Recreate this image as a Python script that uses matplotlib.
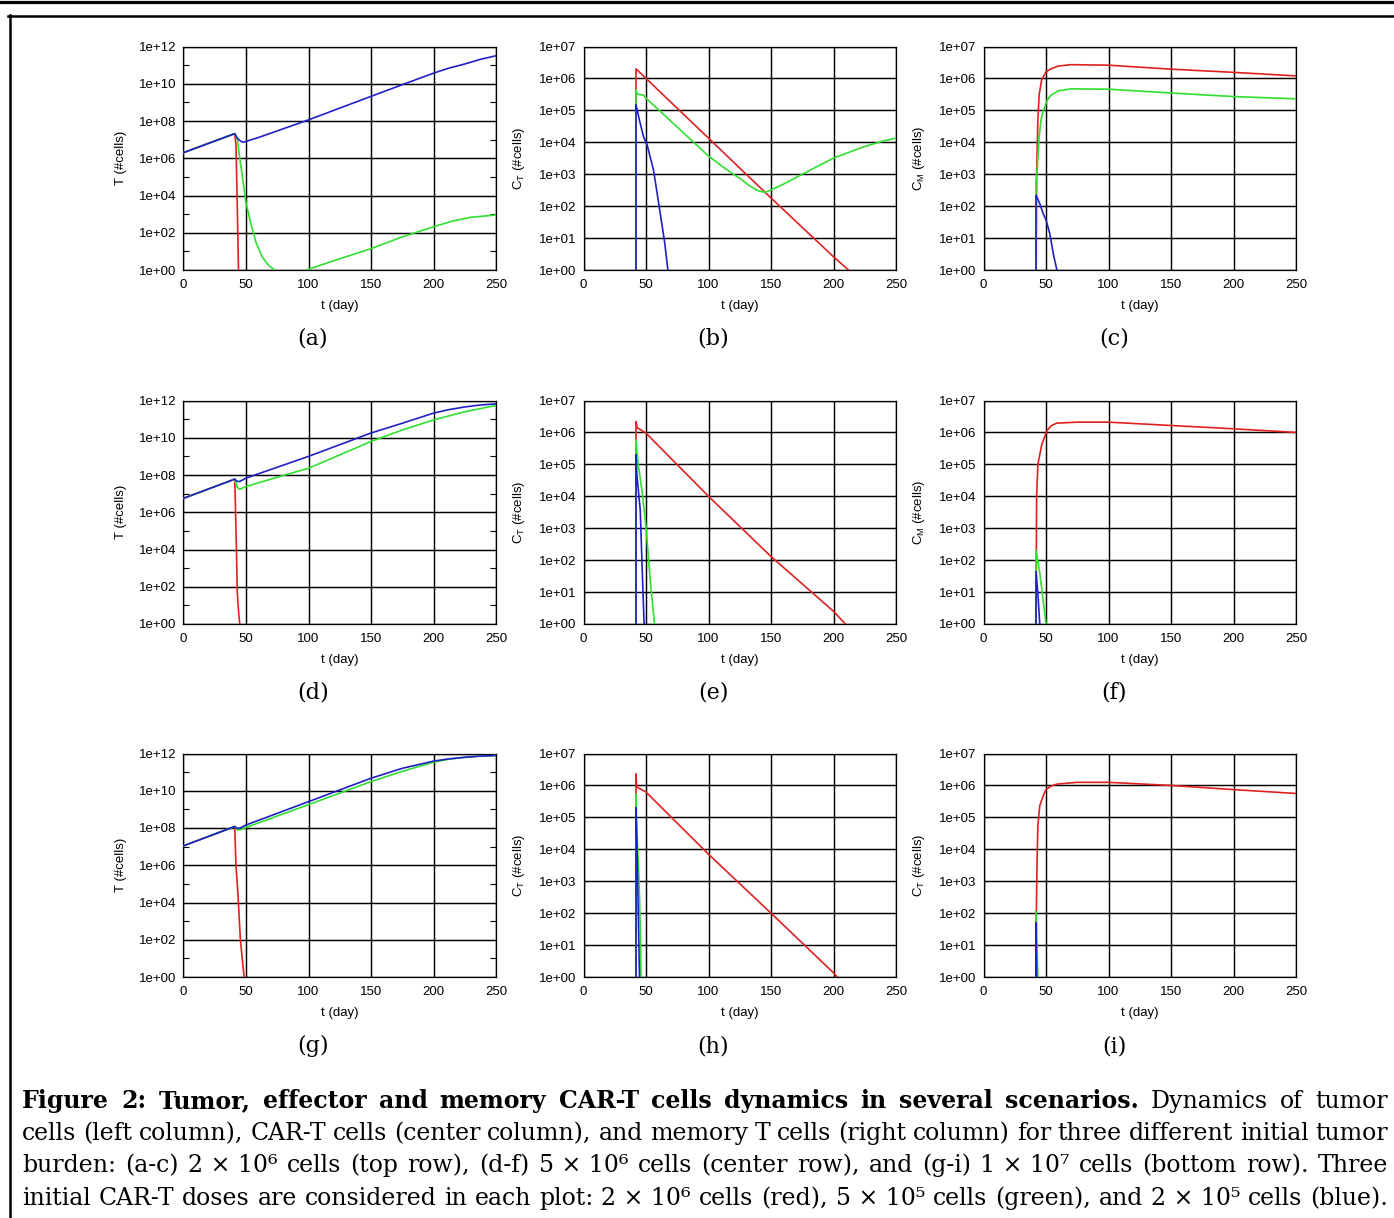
import matplotlib
matplotlib.use('Agg')
import matplotlib.pyplot as plt
from matplotlib.lines import Line2D
from matplotlib.ticker import FixedLocator, NullFormatter

# (day, cells); dose given at day 42
a_red = [(0, 2e6), (41, 2.1e7), (42, 5e6), (43, 3e3), (44, 1), (44.5, 1e-2)]
a_green = [(0, 2e6), (41, 2.1e7), (43, 1.1e7), (45, 1e6), (47, 1.2e5), (50, 4e3), (54, 3e2),
           (58, 3e1), (63, 5), (68, 1.8), (73, 1), (85, 0.05), (98, 1), (125, 4), (150, 14),
           (175, 60), (200, 2.1e2), (215, 4.2e2), (230, 6.8e2), (250, 9e2)]
a_blue = [(0, 2e6), (41, 2.1e7), (43, 1.2e7), (46, 8e6), (48, 7.3e6), (60, 1.3e7), (100, 1.15e8),
          (150, 2.1e9), (175, 8.9e9), (200, 3.7e10), (212, 6.8e10), (225, 1.15e11),
          (237, 2e11), (250, 3.2e11)]

b_red = [(42, 1e-2), (42, 2e6), (50, 1e6), (100, 1.35e4), (150, 1.8e2), (200, 2.6), (212, 1), (213, 0.9)]
b_green = [(42, 1e-2), (42, 4.4e5), (43, 3.2e5), (48, 3e5), (50, 2.4e5), (75, 3e4), (100, 3.7e3),
           (115, 1.35e3), (125, 7.4e2), (133, 4.3e2), (140, 3e2), (145, 2.7e2), (150, 3.2e2),
           (160, 4.9e2), (175, 1e3), (200, 3.2e3), (225, 7.4e3), (240, 1.1e4), (250, 1.35e4)]
b_blue = [(42, 1e-2), (42, 1.5e5), (43, 1e5), (45, 4.5e4), (48, 1.5e4), (51, 8e3), (56, 1.35e3),
          (61, 7.5e1), (65, 7), (67.5, 1), (68, 0.5)]

c_red = [(42, 1e-2), (42.5, 1e3), (43.5, 5e4), (44.5, 3e5), (46.5, 9e5), (50, 1.6e6), (54, 2e6),
         (60, 2.45e6), (70, 2.7e6), (100, 2.6e6), (150, 1.95e6), (200, 1.55e6), (250, 1.2e6)]
c_green = [(42, 1e-2), (42, 6e2), (43, 1.5e3), (44.5, 1.5e4), (46, 5e4), (48, 1e5), (51, 2.1e5),
           (54, 3e5), (60, 4.1e5), (70, 4.7e5), (100, 4.6e5), (150, 3.5e5), (200, 2.7e5), (250, 2.3e5)]
c_blue = [(42, 1e-2), (42, 2.2e2), (45, 1.2e2), (48, 5.5e1), (50, 3.7e1), (53, 1.4e1), (56, 3),
          (58.7, 1), (59, 0.5)]

d_red = [(0, 5.6e6), (41, 6e7), (41.5, 3e6), (42.3, 1.5e4), (43, 6e1), (44, 5), (45, 1), (45.5, 1e-2)]
d_green = [(0, 5.6e6), (41, 6e7), (43, 2.2e7), (45, 1.7e7), (50, 2.4e7), (75, 7.6e7), (100, 2.3e8),
           (125, 1.2e9), (150, 6.3e9), (175, 2.6e10), (200, 9e10), (225, 2.5e11), (250, 5.4e11)]
d_blue = [(0, 5.6e6), (41, 6e7), (43, 4.5e7), (45, 4.5e7), (50, 6.8e7), (100, 1e9), (150, 1.8e10),
          (175, 6e10), (200, 2.1e11), (212, 3.2e11), (225, 4.5e11), (237, 5.7e11), (250, 6.6e11)]

e_red = [(42, 1e-2), (42, 2.2e6), (43, 1.4e6), (50, 9.5e5), (100, 1e4), (150, 1.3e2), (200, 2.5),
         (209.5, 1), (210, 0.9)]
e_green = [(42, 1e-2), (42, 5.8e5), (43, 2e5), (44, 8.5e4), (46.7, 1.6e4), (50, 1.1e3),
           (53.4, 2.4e1), (56.8, 1), (57, 0.5)]
e_blue = [(42, 1e-2), (42, 2e5), (42.7, 4.7e4), (45.4, 3.7e3), (47.5, 1.2e1), (48.5, 1), (48.7, 0.5)]

f_red = [(42, 1e-2), (42.3, 2.7e2), (42.5, 1e4), (43.5, 1e5), (46.5, 4e5), (50.5, 1.1e6),
         (54, 1.6e6), (58.5, 1.95e6), (75, 2.1e6), (100, 2.1e6), (150, 1.65e6), (200, 1.3e6),
         (250, 1e6)]
f_green = [(42, 1e-2), (42, 2e2), (45, 4e1), (48, 4.5), (50, 1), (50.5, 0.5)]
f_blue = [(42, 1e-2), (42, 4.4e1), (43.5, 9), (45, 1), (45.3, 0.5)]

g_red = [(0, 1.1e7), (41, 1.2e8), (41.5, 1e7), (42, 9e5), (43.5, 3.4e4), (45.5, 1e2), (48.5, 1),
         (49, 1e-2)]
g_green = [(0, 1.1e7), (41, 1.2e8), (43, 8e7), (45, 7.9e7), (50, 1.07e8), (100, 1.8e9), (150, 3.1e10),
           (175, 1.1e11), (200, 3.4e11), (212, 4.9e11), (225, 6.2e11), (237, 7.2e11), (250, 7.8e11)]
g_blue = [(0, 1.1e7), (41, 1.2e8), (43, 9.5e7), (45, 9.8e7), (50, 1.45e8), (100, 2.6e9), (150, 4.7e10),
          (175, 1.6e11), (200, 3.9e11), (212, 5.1e11), (225, 6.3e11), (237, 7.2e11), (250, 7.8e11)]

h_red = [(42, 1e-2), (42, 2.3e6), (42.5, 9e5), (50, 6.2e5), (100, 7e3), (150, 1e2), (200, 1.35),
         (203, 1), (203.5, 0.9)]
h_green = [(42, 1e-2), (42, 5.4e5), (42.7, 3.4e4), (44, 3e3), (45, 1.7e2), (45.6, 1.5e1), (46, 1),
           (46.2, 0.5)]
h_blue = [(42, 1e-2), (42, 2e5), (42.7, 2.1e4), (43.5, 4.4e2), (44.1, 2.4e1), (44.8, 1), (45, 0.5)]

i_red = [(42, 1e-2), (42.3, 1e2), (42.7, 1.9e3), (43.5, 5.5e4), (45, 2.3e5), (47.8, 4.8e5),
         (50, 7.4e5), (54, 9.5e5), (58.7, 1.1e6), (75, 1.25e6), (100, 1.25e6), (150, 1e6),
         (200, 7.4e5), (250, 5.6e5)]
i_green = [(42, 1e-2), (42, 1.15e2), (43.5, 1), (43.7, 0.5)]
i_blue = [(42, 1e-2), (42, 5e1), (42.6, 1), (42.8, 0.5)]

letters = ['a', 'b', 'c', 'd', 'e', 'f', 'g', 'h', 'i']
ylabels = ['T (#cells)', r'C$_\mathregular{T}$ (#cells)', r'C$_\mathregular{M}$ (#cells)'] * 2 + \
          ['T (#cells)', r'C$_\mathregular{T}$ (#cells)', r'C$_\mathregular{T}$ (#cells)']
x_ticks = [0, 50, 100, 150, 200, 250]

caption = [
    [('Figure 2:  Tumor, effector and memory CAR-T cells dynamics in several scenarios.', 'bold'),
     ('Dynamics of tumor', 'normal')],
    [('cells (left column), CAR-T cells (center column), and memory T cells (right column) '
      'for three different initial tumor', 'normal')],
    [('burden: (a-c) 2~×~10⁶ cells (top row), (d-f) 5~×~10⁶ cells (center row), '
      'and (g-i) 1~×~10⁷ cells (bottom row).  Three', 'normal')],
    [('initial CAR-T doses are considered in each plot: 2~×~10⁶ cells (red), '
      '5~×~10⁵ cells (green), and 2~×~10⁵ cells (blue).', 'normal')],
]

COLORS = ['#e02020', '#30e030', '#2020c8']
SANS = ['Liberation Sans', 'DejaVu Sans']
SERIF = ['DejaVu Serif']
plt.rcParams['font.family'] = SANS
plt.rcParams['mathtext.fontset'] = 'custom'
plt.rcParams['mathtext.rm'] = 'Liberation Sans'

W, H = 1394, 1218
fig = plt.figure(figsize=(W / 100, H / 100), dpi=100)

col_left = [183.5, 583.5, 983.5]
row_bottom = [270, 624, 977]
AX_W, AX_H = 312.5, 223.5

series = [(a_red, a_green, a_blue), (b_red, b_green, b_blue), (c_red, c_green, c_blue),
          (d_red, d_green, d_blue), (e_red, e_green, e_blue), (f_red, f_green, f_blue),
          (g_red, g_green, g_blue), (h_red, h_green, h_blue), (i_red, i_green, i_blue)]

for k in range(9):
    r, c = divmod(k, 3)
    ax = fig.add_axes([col_left[c] / W, 1 - row_bottom[r] / H, AX_W / W, AX_H / H])
    for pts, col in zip(series[k], COLORS):
        t = [p[0] for p in pts]
        v = [p[1] for p in pts]
        ax.plot(t, v, color=col, lw=1.2, zorder=3)
    ax.set_yscale('log')
    ax.set_xlim(0, 250)
    if c == 0:
        top = 12
        major = list(range(0, 13, 2))
        minor = list(range(1, 12, 2))
    else:
        top = 7
        major = list(range(0, 8))
        minor = []
    ax.set_ylim(1, 10.0 ** top)
    ax.yaxis.set_major_locator(FixedLocator([10.0 ** e for e in major]))
    ax.yaxis.set_minor_locator(FixedLocator([10.0 ** e for e in minor]))
    ax.yaxis.set_minor_formatter(NullFormatter())
    ax.set_yticklabels(['1e+%02d' % e for e in major])
    ax.set_xticks(x_ticks)
    ax.set_xticklabels([str(x) for x in x_ticks])
    ax.tick_params(which='both', direction='in', left=True, right=True, top=True, bottom=True,
                   labelsize=9.5, width=0.8)
    ax.tick_params(which='major', length=0, pad=5)
    ax.tick_params(axis='x', which='major', pad=6.5)
    ax.tick_params(which='minor', length=4)
    ax.grid(True, which='major', color='black', lw=1.05)
    for s in ax.spines.values():
        s.set_linewidth(0.9)
    ax.set_xlabel('t (day)', fontsize=9.5, labelpad=6.5)
    ax.set_ylabel(ylabels[k], fontsize=9.5, labelpad=9)
    fig.text((313 + 400.5 * c) / W, 1 - (row_bottom[r] + 69) / H, '(%s)' % letters[k],
             family=SERIF, fontsize=16, ha='center', va='center')

# page frame
fig.add_artist(Line2D([0, 1], [1 - 1.5 / H] * 2, color='black', lw=2.3, transform=fig.transFigure))
fig.add_artist(Line2D([8 / W, 1], [1 - 15.5 / H] * 2, color='black', lw=1.8, transform=fig.transFigure))
fig.add_artist(Line2D([9.5 / W] * 2, [1 - 15 / H, 0], color='black', lw=1.8, transform=fig.transFigure))

# justified caption
renderer = fig.canvas.get_renderer()
x0, x1 = 22, 1388
baselines = [1108, 1140, 1172, 1205]
for line, yb in zip(caption, baselines):
    objs = []
    for text, weight in line:
        for word in text.split():
            objs.append(fig.text(0, 1 - yb / H, word.replace('~', ' '), family=SERIF, fontsize=17,
                                 fontweight=weight, va='baseline', ha='left'))
    widths = [o.get_window_extent(renderer).width for o in objs]
    gap = (x1 - x0 - sum(widths)) / (len(objs) - 1)
    x = x0
    for o, w in zip(objs, widths):
        o.set_x(x / W)
        x += w + gap

fig.savefig('out.png', dpi=100)
